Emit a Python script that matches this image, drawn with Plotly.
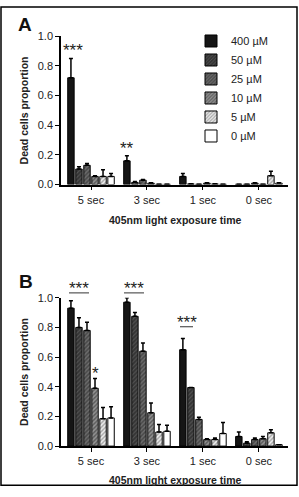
import plotly.graph_objects as go

W, H = 299, 497

categories = ["5 sec", "3 sec", "1 sec", "0 sec"]
series_names = ["400 µM", "50 µM", "25 µM", "10 µM", "5 µM", "0 µM"]

# Panel A: means and upper error (SEM)
a_400 = [0.72, 0.16, 0.055, 0.003]
a_50 = [0.105, 0.015, 0.005, 0.003]
a_25 = [0.13, 0.03, 0.003, 0.01]
a_10 = [0.055, 0.01, 0.01, 0.003]
a_5 = [0.055, 0.003, 0.005, 0.06]
a_0 = [0.055, 0.003, 0.003, 0.01]
a_err_400 = [0.13, 0.035, 0.02, 0.0]
a_err_50 = [0.015, 0.005, 0.0, 0.0]
a_err_25 = [0.012, 0.005, 0.0, 0.003]
a_err_10 = [0.005, 0.002, 0.003, 0.0]
a_err_5 = [0.045, 0.0, 0.0, 0.03]
a_err_0 = [0.02, 0.0, 0.0, 0.002]

# Panel B
b_400 = [0.93, 0.97, 0.65, 0.065]
b_50 = [0.80, 0.875, 0.395, 0.02]
b_25 = [0.78, 0.64, 0.18, 0.045]
b_10 = [0.39, 0.225, 0.045, 0.05]
b_5 = [0.185, 0.095, 0.045, 0.09]
b_0 = [0.19, 0.10, 0.085, 0.01]
b_err_400 = [0.05, 0.03, 0.075, 0.03]
b_err_50 = [0.065, 0.025, 0.0, 0.01]
b_err_25 = [0.055, 0.055, 0.015, 0.01]
b_err_10 = [0.065, 0.065, 0.005, 0.015]
b_err_5 = [0.075, 0.05, 0.01, 0.02]
b_err_0 = [0.075, 0.04, 0.075, 0.0]

y_ticks = [0.0, 0.2, 0.4, 0.6, 0.8, 1.0]
y_tick_labels = ["0.0", "0.2", "0.4", "0.6", "0.8", "1.0"]

a_vals = [a_400, a_50, a_25, a_10, a_5, a_0]
a_errs = [a_err_400, a_err_50, a_err_25, a_err_10, a_err_5, a_err_0]
b_vals = [b_400, b_50, b_25, b_10, b_5, b_0]
b_errs = [b_err_400, b_err_50, b_err_25, b_err_10, b_err_5, b_err_0]

styles = [
    dict(color="#151515", pattern=None),
    dict(color="#3c3c3c", pattern=dict(shape="/", bgcolor="#353535", fgcolor="#757575", size=3, solidity=0.35)),
    dict(color="#555555", pattern=dict(shape="/", bgcolor="#4a4a4a", fgcolor="#9a9a9a", size=3, solidity=0.4)),
    dict(color="#6e6e6e", pattern=dict(shape="/", bgcolor="#606060", fgcolor="#cccccc", size=3, solidity=0.45)),
    dict(color="#9a9a9a", pattern=dict(shape="/", bgcolor="#eeeeee", fgcolor="#5a5a5a", size=3, solidity=0.45)),
    dict(color="#ffffff", pattern=None),
]

fig = go.Figure()

def add_panel(vals, errs, xa, ya, show):
    for name, v, e, st in zip(series_names, vals, errs, styles):
        marker = dict(color=st["color"], line=dict(color="black", width=1))
        if st["pattern"] is not None:
            marker["pattern"] = st["pattern"]
        fig.add_trace(go.Bar(
            x=categories, y=v, name=name, marker=marker,
            xaxis=xa, yaxis=ya, showlegend=show, legendgroup=name,
            cliponaxis=False,
            error_y=dict(type="data", array=e, arrayminus=[0] * len(e), symmetric=False,
                         color="black", thickness=1.5, width=2),
        ))

add_panel(a_vals, a_errs, "x", "y", True)
add_panel(b_vals, b_errs, "x2", "y2", False)

xdom = [61 / W, 288 / W]
ya_dom = [1 - 183 / H, 1 - 31 / H]
yb_dom = [1 - 451 / H, 1 - 299 / H]
font_tick = dict(family="Liberation Sans, Arial", size=11, color="#222222")

axis_common = dict(showline=True, linecolor="black", linewidth=1.5, ticks="outside",
                   ticklen=4, tickwidth=1.2, tickcolor="black", showgrid=False,
                   zeroline=False, tickfont=font_tick)

fig.update_layout(
    width=W, height=H, margin=dict(l=0, r=0, t=0, b=0),
    paper_bgcolor="white", plot_bgcolor="white",
    barmode="group", bargap=0.14, bargroupgap=0.2,
    xaxis=dict(domain=xdom, anchor="y", range=[-0.536, 3.52], **axis_common),
    yaxis=dict(domain=ya_dom, anchor="x", range=[0, 1.0], tickvals=y_ticks,
               ticktext=y_tick_labels, **axis_common),
    xaxis2=dict(domain=xdom, anchor="y2", range=[-0.536, 3.52], **axis_common),
    yaxis2=dict(domain=yb_dom, anchor="x2", range=[0, 1.0], tickvals=y_ticks,
                ticktext=y_tick_labels, **axis_common),
    legend=dict(x=191 / W, y=1 - 21 / H, xanchor="left", yanchor="top",
                font=dict(family="Liberation Sans, Arial", size=11, color="#222222"),
                bgcolor="rgba(0,0,0,0)", tracegroupgap=0),
    showlegend=True,
)

bold = dict(family="Liberation Sans, Arial", size=10.5, color="#222222")
ann = []
def add_ann(**kw):
    kw.setdefault("showarrow", False)
    kw.setdefault("xanchor", "center")
    kw.setdefault("yanchor", "middle")
    ann.append(kw)

# panel letters
add_ann(text="<b>A</b>", x=25 / W, y=1 - 19 / H, xref="paper", yref="paper",
        font=dict(family="Liberation Sans, Arial", size=19, color="#111"))
add_ann(text="<b>B</b>", x=26 / W, y=1 - 282 / H, xref="paper", yref="paper",
        font=dict(family="Liberation Sans, Arial", size=19, color="#111"))
# axis titles
for yc in (107, 375):
    add_ann(text="<b>Dead cells proportion</b>", x=24 / W, y=1 - yc / H, xref="paper",
            yref="paper", textangle=-90, font=bold)
for yc in (219, 486):
    add_ann(text="<b>405nm light exposure time</b>", x=175 / W, y=1 - yc / H, xref="paper",
            yref="paper", font=bold)

# significance marks (pixel positions in the figure)
star_font = dict(family="Liberation Sans, Arial", size=17, color="#222222")
stars = [("***", 73, 46), ("**", 127, 146),
         ("***", 79, 290), ("***", 134, 290),
         ("***", 187, 324), ("*", 95, 377)]
for t, px, py in stars:
    add_ann(text=t, x=px / W, y=1 - py / H, xref="paper", yref="paper", font=star_font)

shapes = []
for x0, x1, py in [(69, 89, 294), (124, 144, 294), (180, 193, 328.7)]:
    shapes.append(dict(type="line", x0=x0 / W, x1=x1 / W, y0=1 - py / H, y1=1 - py / H,
                       xref="paper", yref="paper", line=dict(color="#333", width=1)))
shapes.append(dict(type="rect", x0=1 / W, x1=297 / W, y0=1 - 491 / H, y1=1 - 1 / H,
                   xref="paper", yref="paper", line=dict(color="black", width=1.5)))

fig.update_layout(annotations=ann, shapes=shapes)
fig.write_html("out.html")
